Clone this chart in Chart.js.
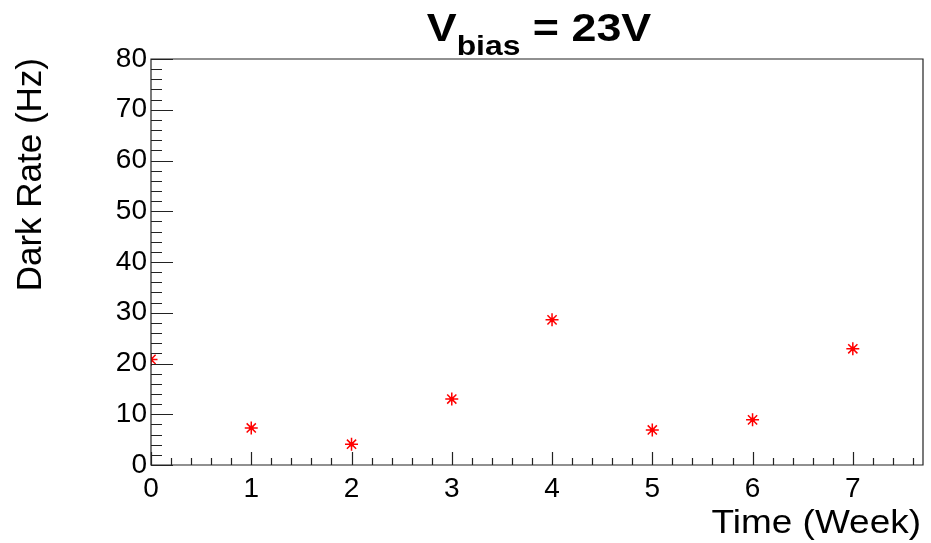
<!DOCTYPE html>
<html lang="en">
<head>
    <meta charset="UTF-8">
    <title>Dark Rate vs Time</title>
    <script src="https://cdn.jsdelivr.net/npm/chart.js"></script>
    <style>
        body { margin: 0; background: #fff; }
    </style>
</head>
<body>
    <canvas id="graficaDR" width="931" height="543"></canvas>

    <script>
        // Weekly dark rate measurements at Vbias = 23 V
        const weeks = [0, 1, 2, 3, 4, 5, 6, 7];
        const darkRate = [20.8, 7.3, 4.1, 13.0, 28.6, 6.9, 8.9, 22.9];
        const xRange = [0, 7.7];
        const yRange = [0, 80];

        const puntos = weeks.map((w, i) => ({ x: w, y: darkRate[i] }));
        const fuente = '"Liberation Sans", Arial, sans-serif';

        // horizontal text, slightly widened like the ROOT fonts
        function texto(c, s, x, y, font, align, sx) {
            c.save();
            c.font = font;
            const w = c.measureText(s).width * sx;
            const x0 = align === 'right' ? x - w : x;
            c.translate(x0, y);
            c.scale(sx, 1);
            c.textAlign = 'left';
            c.fillText(s, 0, 0);
            c.restore();
            return w;
        }

        // ROOT-like frame: ticks drawn inside, titles at the axis ends
        const marcoRoot = {
            id: 'marcoRoot',
            afterDraw(chart) {
                const c = chart.ctx;
                const a = chart.chartArea;
                const sx = chart.scales.x;
                const sy = chart.scales.y;
                c.save();
                c.strokeStyle = '#222';
                c.lineWidth = 1.2;
                c.beginPath();
                c.rect(a.left, a.top, a.right - a.left, a.bottom - a.top);
                c.stroke();

                c.beginPath();
                for (let v = 0; v <= 80.001; v += 2) {
                    const py = Math.round(sy.getPixelForValue(v)) + 0.5;
                    const len = (Math.round(v) % 10 === 0) ? 22 : 11;
                    c.moveTo(a.left, py);
                    c.lineTo(a.left + len, py);
                }
                for (let k = 0; k <= 38; k++) {
                    const v = k * 0.2;
                    const px = Math.round(sx.getPixelForValue(v)) + 0.5;
                    const len = (k % 5 === 0) ? 13 : 7;
                    c.moveTo(px, a.bottom);
                    c.lineTo(px, a.bottom - len);
                }
                c.stroke();

                // axis titles
                c.fillStyle = '#000';
                c.textBaseline = 'alphabetic';
                texto(c, 'Time (Week)', a.right - 2, 533, '33px ' + fuente, 'right', 1.12);

                c.save();
                c.font = '35px ' + fuente;
                c.translate(41, a.top - 1);
                c.rotate(-Math.PI / 2);
                c.textAlign = 'right';
                c.fillText('Dark Rate (Hz)', 0, 0);
                c.restore();

                // title with subscript
                const fMain = 'bold 38px ' + fuente;
                const fSub = 'bold 27px ' + fuente;
                const k = 1.18;
                c.font = fMain;
                const w1 = c.measureText('V').width * k;
                const w3 = c.measureText(' = 23V').width * k;
                c.font = fSub;
                const w2 = c.measureText('bias').width * k;
                let x0 = 539 - (w1 + w2 + w3) / 2;
                x0 += texto(c, 'V', x0, 41, fMain, 'left', k);
                x0 += texto(c, 'bias', x0, 55, fSub, 'left', k);
                texto(c, ' = 23V', x0, 41, fMain, 'left', k);
                c.restore();
            }
        };

        const ctx = document.getElementById('graficaDR').getContext('2d');
        const grafica = new Chart(ctx, {
            type: 'scatter',
            data: {
                datasets: [{
                    label: 'Dark Rate',
                    data: puntos,
                    pointStyle: 'star',
                    pointRadius: 6.5,
                    borderColor: '#ff0000',
                    backgroundColor: '#ff0000',
                    borderWidth: 1.5
                }, {
                    label: 'centro',
                    data: puntos,
                    pointStyle: 'rect',
                    pointRadius: 3,
                    borderWidth: 0,
                    backgroundColor: '#ff0000'
                }]
            },
            options: {
                responsive: false,
                animation: false,
                layout: { padding: { top: 59, right: 5, left: 0, bottom: 0 } },
                plugins: {
                    legend: { display: false },
                    tooltip: { enabled: false }
                },
                scales: {
                    x: {
                        type: 'linear',
                        min: xRange[0],
                        max: xRange[1],
                        grid: { display: false, drawTicks: false },
                        border: { display: false },
                        ticks: {
                            stepSize: 1,
                            includeBounds: false,
                            color: '#000',
                            padding: 7,
                            font: { size: 28, family: fuente }
                        },
                        afterFit(s) { s.height = 78; }
                    },
                    y: {
                        min: yRange[0],
                        max: yRange[1],
                        grid: { display: false, drawTicks: false },
                        border: { display: false },
                        ticks: {
                            stepSize: 10,
                            color: '#000',
                            padding: 4,
                            font: { size: 28, family: fuente }
                        },
                        afterFit(s) { s.width = 151; }
                    }
                }
            },
            plugins: [marcoRoot]
        });
    </script>
</body>
</html>
